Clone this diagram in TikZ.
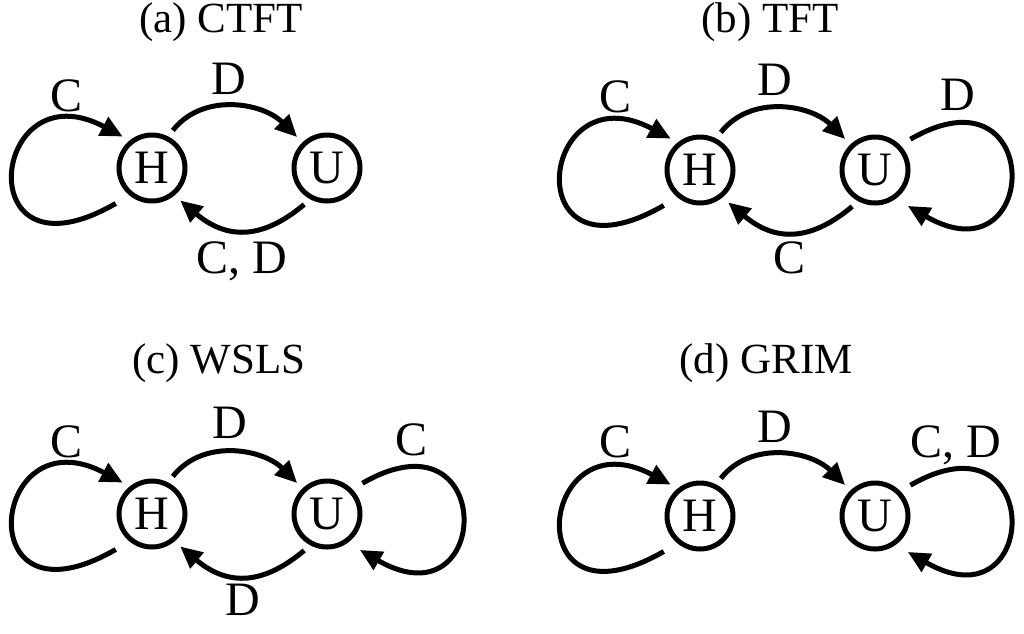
\documentclass[tikz,border=0pt]{standalone}
\usepackage{fontspec}
\setmainfont{Liberation Serif}
\usetikzlibrary{arrows.meta}
\begin{document}
\begin{tikzpicture}[x=1pt,y=1pt,
  state/.style={circle,draw,line width=5pt,minimum size=66pt,inner sep=0pt,outer sep=10pt,font=\fontsize{48}{48}\selectfont},
  arr/.style={line width=5pt,-{Triangle[length=22pt,width=20pt]}},
  lab/.style={anchor=base,inner sep=0pt,font=\fontsize{48}{48}\selectfont},
  ttl/.style={anchor=base,inner sep=0pt,font=\fontsize{43}{43}\selectfont},
  toparr/.style={arr,out=52,in=135},
  botarr/.style={arr,out=220,in=320,looseness=1.2},
  hloop/.style={arr,shorten <=8pt},
  uloop/.style={arr,shorten <=4pt,shorten >=6pt}]
\useasboundingbox (0,0) rectangle (1024,-633);

% titles
\node[ttl] (ta) at (221,-32) {(a) CTFT};
\node[ttl] (tb) at (770,-32) {(b) TFT};
\node[ttl] (tc) at (219,-373) {(c) WSLS};
\node[ttl] (td) at (766,-373) {(d) GRIM};

% (a) CTFT
\begin{scope}[shift={(152,-168)}]
\node[state] (Ha) at (0,0) {H};
\node[state] (Ua) at (175,0) {U};
\draw[toparr] (Ha.61) to (Ua.134);
\draw[botarr] (Ua.238) to (Ha.311);
\draw[hloop] (Ha.227) .. controls +(210:180) and +(152:150) .. (Ha.133);
\node[lab] (ca) at (-85,57) {C};
\node[lab] (da) at (77,74) {D};
\node[lab] (cda) at (90,-105) {C, D};
\end{scope}

% (b) TFT
\begin{scope}[shift={(700,-170)}]
\node[state] (Hb) at (0,0) {H};
\node[state] (Ub) at (175,0) {U};
\draw[toparr] (Hb.61) to (Ub.134);
\draw[botarr] (Ub.238) to (Hb.311);
\draw[hloop] (Hb.227) .. controls +(210:180) and +(152:150) .. (Hb.133);
\draw[uloop] (Ub.42) .. controls +(30:160) and +(330:160) .. (Ub.310);
\node[lab] (cb) at (-85,58) {C};
\node[lab] (db) at (75,75) {D};
\node[lab] (db2) at (258,60) {D};
\node[lab] (cb2) at (89,-103) {C};
\end{scope}

% (c) WSLS
\begin{scope}[shift={(152,-514)}]
\node[state] (Hc) at (0,0) {H};
\node[state] (Uc) at (175,0) {U};
\draw[toparr] (Hc.61) to (Uc.134);
\draw[botarr] (Uc.238) to (Hc.311);
\draw[hloop] (Hc.227) .. controls +(210:180) and +(152:150) .. (Hc.133);
\draw[uloop] (Uc.42) .. controls +(30:160) and +(330:160) .. (Uc.310);
\node[lab] (cc) at (-85,57) {C};
\node[lab] (dc) at (78,76) {D};
\node[lab] (cc2) at (260,59) {C};
\node[lab] (dc2) at (91,-101) {D};
\end{scope}

% (d) GRIM
\begin{scope}[shift={(700,-516)}]
\node[state] (Hd) at (0,0) {H};
\node[state] (Ud) at (175,0) {U};
\draw[toparr] (Hd.61) to (Ud.134);
\draw[hloop] (Hd.227) .. controls +(210:180) and +(152:150) .. (Hd.133);
\draw[uloop] (Ud.42) .. controls +(30:160) and +(330:160) .. (Ud.310);
\node[lab] (cd) at (-85,59) {C};
\node[lab] (dd) at (75,74) {D};
\node[lab] (cdd) at (256,59) {C, D};
\end{scope}
\end{tikzpicture}
\end{document}
